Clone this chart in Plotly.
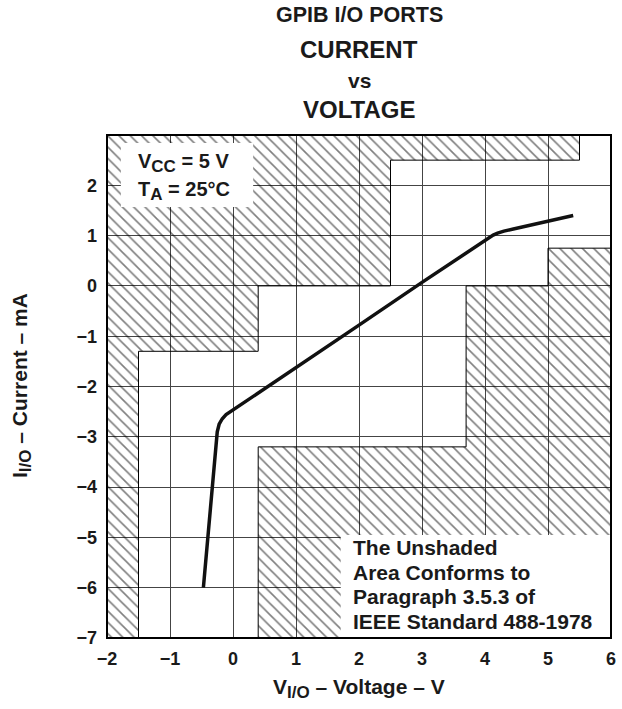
import plotly.graph_objects as go

# Measured curve: I/O current vs voltage
voltage_v = [-0.47, -0.40, -0.33, -0.28, -0.25, -0.22, -0.17, -0.11, -0.05, 1.0, 2.0, 3.0, 4.05, 4.13, 4.20, 4.30, 4.45, 5.0, 5.40]
current_ma = [-6.0, -5.0, -4.0, -3.2, -2.9, -2.75, -2.64, -2.56, -2.51, -1.63, -0.78, 0.07, 0.96, 1.01, 1.05, 1.09, 1.13, 1.28, 1.40]

# Shaded (non-conforming) regions
upper_left_v = [-2, -1.5, -1.5, 0.4, 0.4, 2.5, 2.5, 5.5, 5.5, -2, -2]
upper_left_i = [-7, -7, -1.3, -1.3, 0, 0, 2.5, 2.5, 3, 3, -7]
lower_right_v = [0.4, 6, 6, 5, 5, 3.7, 3.7, 0.4, 0.4]
lower_right_i = [-7, -7, 0.75, 0.75, 0, 0, -3.2, -3.2, -7]

x_ticks = [-2, -1, 0, 1, 2, 3, 4, 5, 6]
y_ticks = [-7, -6, -5, -4, -3, -2, -1, 0, 1, 2]

FONT = "Liberation Sans, Arial, sans-serif"
INK = "#1a1a1a"

fig = go.Figure()

hatch = dict(shape="\\", size=8, solidity=0.2, fgcolor="black", bgcolor="rgba(0,0,0,0)")
for vx, iy in [(upper_left_v, upper_left_i), (lower_right_v, lower_right_i)]:
    fig.add_trace(go.Scatter(
        x=vx, y=iy, mode="lines", fill="toself",
        fillcolor="rgba(0,0,0,0)", fillpattern=hatch,
        line=dict(color="black", width=1), hoverinfo="skip", showlegend=False))

fig.add_trace(go.Scatter(
    x=voltage_v, y=current_ma, mode="lines",
    line=dict(color="#111", width=3.5), showlegend=False))

shapes = [
    dict(type="rect", xref="x", yref="y", x0=-1.78, x1=0.32, y0=1.57, y1=2.84,
         fillcolor="white", line=dict(width=0), layer="above"),
    dict(type="rect", xref="x", yref="y", x0=1.71, x1=6, y0=-7, y1=-4.95,
         fillcolor="white", line=dict(width=0), layer="above"),
    dict(type="rect", xref="paper", yref="paper", x0=0, x1=1, y0=0, y1=1,
         line=dict(color="black", width=2), layer="above"),
]

ann_font = dict(family=FONT, size=21, color=INK, weight="bold")
annotations = []
for yv, txt in [(-5.21, "The Unshaded"), (-5.69, "Area Conforms to"),
                (-6.18, "Paragraph 3.5.3 of"), (-6.68, "IEEE Standard 488-1978")]:
    annotations.append(dict(x=1.87, y=yv, xref="x", yref="y", text=txt, showarrow=False,
                            xanchor="left", yanchor="middle", font=ann_font))
sub = "<sub><span style='font-size:17px'>%s</span></sub>"
for yv, txt in [(2.44, "V" + sub % "CC" + " = 5 V"), (1.89, "T" + sub % "A" + " = 25°C")]:
    annotations.append(dict(x=-1.54, y=yv, xref="x", yref="y", text=txt, showarrow=False,
                            xanchor="left", yanchor="middle",
                            font=dict(family=FONT, size=20, color=INK, weight="bold")))

# titles (paper coordinates: plot top at y=135px, bottom at 638px)
def py(p):
    return (638 - p) / 503.0

def px(p):
    return (p - 107) / 504.0

for p, txt, sz in [(15, "GPIB I/O PORTS", 21.5), (50, "CURRENT", 24), (81, "vs", 21), (109, "VOLTAGE", 24)]:
    annotations.append(dict(x=0.5, y=py(p), xref="paper", yref="paper", text=txt, showarrow=False,
                            xanchor="center", yanchor="middle",
                            font=dict(family=FONT, size=sz, color=INK, weight="bold")))

title_font = dict(family=FONT, size=21, color=INK, weight="bold")
sub2 = "<sub><span style='font-size:17px'>I/O</span></sub>"
annotations.append(dict(x=px(359), y=py(688), xref="paper", yref="paper",
                        text="V" + sub2 + " – Voltage – V", showarrow=False,
                        xanchor="center", yanchor="middle", font=title_font))
annotations.append(dict(x=px(21), y=py(386), xref="paper", yref="paper",
                        text="I" + sub2 + " – Current – mA", showarrow=False, textangle=-90,
                        xanchor="center", yanchor="middle", font=title_font))

tick_font = dict(family=FONT, size=18, color=INK, weight="bold")
fig.update_layout(
    width=622, height=709,
    margin=dict(l=107, r=11, t=135, b=71),
    paper_bgcolor="white", plot_bgcolor="white",
    shapes=shapes, annotations=annotations,
    xaxis=dict(range=[-2, 6], tickvals=x_ticks, showgrid=True, gridcolor="#444", gridwidth=1,
               zeroline=False, showline=False, ticks="", tickfont=tick_font,
               automargin=False, ticklabelstandoff=8),
    yaxis=dict(range=[-7, 3], tickvals=y_ticks, showgrid=True, gridcolor="#444", gridwidth=1,
               zeroline=False, showline=False, ticks="", tickfont=tick_font,
               automargin=False, ticklabelstandoff=9),
)

fig.write_html("out.html", config={"displayModeBar": False},
               post_script="document.body.style.margin='0';document.body.style.padding='0';")
